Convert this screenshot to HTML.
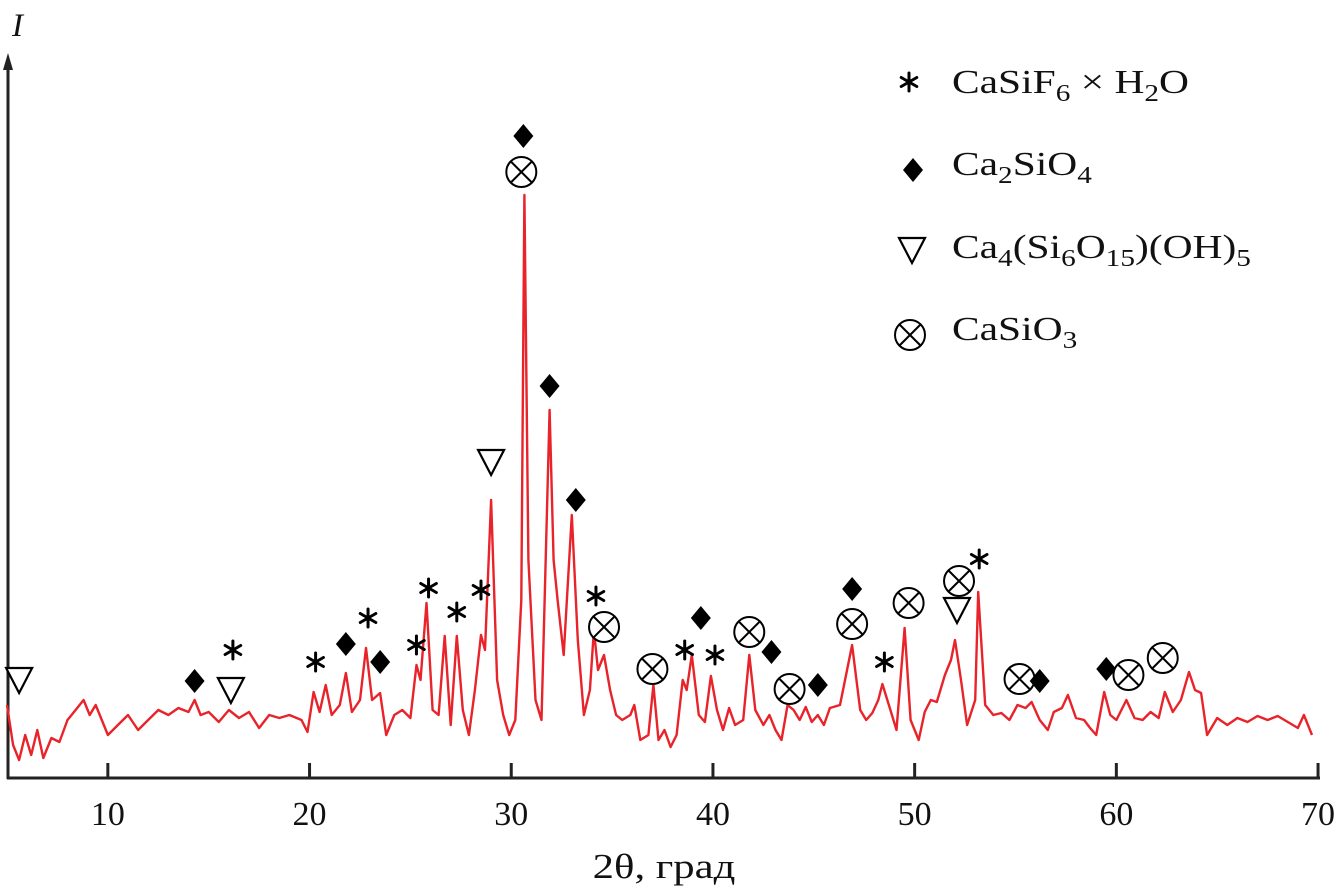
<!DOCTYPE html>
<html><head><meta charset="utf-8"><style>
html,body{margin:0;padding:0;background:#fff}
svg{display:block}
text{font-family:"Liberation Serif",serif;fill:#111}
</style></head><body>
<svg id="chart" width="1343" height="891" viewBox="0 0 1343 891" xmlns="http://www.w3.org/2000/svg">
<g id="axes"></g>
<g id="series"></g>
<g id="markers"></g>
<g id="legend"></g>
</svg>
<script>
const twoTheta=[5.0,5.3,5.6,5.9,6.2,6.5,6.8,7.2,7.6,8.0,8.4,8.8,9.1,9.4,9.7,10.0,10.5,11.0,11.5,12.0,12.5,13.0,13.5,14.0,14.3,14.6,15.0,15.5,16.0,16.5,17.0,17.5,18.0,18.5,19.0,19.6,19.9,20.2,20.5,20.8,21.1,21.5,21.8,22.1,22.5,22.8,23.1,23.5,23.8,24.2,24.6,25.0,25.3,25.5,25.8,26.1,26.4,26.7,27.0,27.3,27.6,27.9,28.2,28.5,28.7,29.0,29.3,29.6,29.9,30.2,30.5,30.65,30.85,31.2,31.5,31.9,32.1,32.3,32.6,33.0,33.3,33.6,33.9,34.1,34.3,34.6,34.9,35.2,35.5,35.9,36.1,36.4,36.8,37.05,37.3,37.6,37.9,38.2,38.5,38.7,38.95,39.3,39.6,39.9,40.2,40.5,40.8,41.1,41.5,41.8,42.1,42.5,42.8,43.1,43.4,43.7,44.0,44.3,44.6,44.9,45.2,45.5,45.8,46.3,46.9,47.3,47.6,47.9,48.2,48.4,48.8,49.1,49.5,49.8,50.2,50.5,50.8,51.1,51.5,51.8,52.0,52.3,52.6,53.0,53.15,53.5,53.9,54.3,54.7,55.1,55.5,55.8,56.2,56.6,56.9,57.3,57.6,58.0,58.4,58.7,59.0,59.4,59.7,60.0,60.5,60.9,61.3,61.7,62.1,62.4,62.8,63.2,63.6,63.9,64.2,64.5,65.0,65.5,66.0,66.5,67.0,67.5,68.0,68.5,69.0,69.3,69.7];
const intensity=[73,33,18,43,23,48,20,40,36,58,68,78,63,73,58,43,53,63,48,58,68,63,70,66,78,63,66,56,68,60,66,50,63,60,63,58,46,86,66,93,63,73,105,66,78,130,78,85,43,63,68,60,113,98,175,68,63,142,53,142,68,43,88,143,128,278,98,63,43,58,178,583,218,78,58,368,218,178,123,263,138,63,88,148,108,123,88,63,58,63,73,38,43,93,38,48,31,43,98,88,123,63,56,102,68,48,70,53,58,123,68,53,63,48,38,73,68,58,71,56,63,53,70,73,133,68,58,65,78,94,68,48,150,58,38,66,78,76,103,118,138,98,53,78,186,73,63,65,58,73,70,76,58,48,66,70,83,60,58,50,43,86,63,58,78,60,58,66,60,86,66,78,106,88,85,43,60,53,60,56,62,58,62,56,50,63,43];
const xTicks=[10,20,30,40,50,60,70];
const markerType=['tri','dia','tri','ast','ast','dia','ast','dia','ast','ast','ast','ast','tri','ox','dia','dia','dia','ast','ox','ox','ast','dia','ast','ox','dia','ox','dia','dia','ox','ast','ox','tri','ox','ast','ox','dia','dia','ox','ox'];
const markerPos=[5.6,14.3,16.1,16.2,20.3,21.8,22.9,23.5,25.3,25.9,27.3,28.5,29.0,30.5,30.6,31.9,33.2,34.2,34.6,37.0,38.6,39.4,40.1,41.8,42.9,43.8,45.2,46.9,46.9,48.5,49.7,52.1,52.2,53.2,55.2,56.2,59.5,60.6,62.3];
const markerLevel=[98,97,88,128,116,134,160,116,133,190,166,188,316,606,642,392,278,182,151,109,128,160,123,146,126,89,93,189,154,116,175,168,197,219,99,97,109,103,120];

const NS='http://www.w3.org/2000/svg';
const X0=7, Y0=778, PX=20.17, SX=1.22;
function xs(v){return X0+(v-5)*PX;}
function ys(v){return Y0-v;}
function mk(tag,attrs,parent){const e=document.createElementNS(NS,tag);for(const k in attrs)e.setAttribute(k,attrs[k]);parent.appendChild(e);return e;}
function stretch(el,cx,s){el.setAttribute('transform',`translate(${cx},0) scale(${s||SX},1) translate(${-cx},0)`);}

const axes=document.getElementById('axes');
let e=mk('line',{x1:X0,y1:Y0,x2:1320,y2:Y0,stroke:'#222','stroke-width':3},axes);


e=mk('line',{x1:8,y1:Y0+1,x2:8,y2:62,stroke:'#222','stroke-width':3},axes);


e=mk('polygon',{points:'8,53 3,70 13,70',fill:'#222'},axes);


xTicks.forEach(t=>{
  const l=mk('line',{x1:xs(t),y1:Y0,x2:xs(t),y2:763,stroke:'#222','stroke-width':3},axes);
  
  
  const tx=mk('text',{x:xs(t),y:825,'text-anchor':'middle','font-size':34},axes);
  tx.textContent=t;
  
  
});
e=mk('text',{x:664,y:878,'text-anchor':'middle','font-size':35},axes);
e.textContent='2θ, град';
stretch(e,664);


e=mk('text',{x:12,y:36,'font-size':33,'font-style':'italic'},axes);
e.textContent='I';



const series=document.getElementById('series');
let d='';
twoTheta.forEach((t,i)=>{d+=(i?'L':'M')+xs(t).toFixed(1)+','+ys(intensity[i]).toFixed(1);});
e=mk('path',{d:d,fill:'none',stroke:'#e8232a','stroke-width':2.4,'stroke-linejoin':'round'},series);



function drawMarker(type,cx,cy,parent){
  const g=mk('g',{},parent);
  if(type==='dia'){mk('polygon',{points:`${cx},${cy-12} ${cx+10},${cy} ${cx},${cy+12} ${cx-10},${cy}`,fill:'#000'},g);}
  else if(type==='tri'){mk('polygon',{points:`${cx-13},${cy-12} ${cx+13},${cy-12} ${cx},${cy+13}`,fill:'#fff',stroke:'#000','stroke-width':2.2},g);}
  else if(type==='ox'){mk('circle',{cx:cx,cy:cy,r:15,fill:'#fff',stroke:'#000','stroke-width':2},g);
    mk('line',{x1:cx-10,y1:cy-10,x2:cx+10,y2:cy+10,stroke:'#000','stroke-width':2},g);
    mk('line',{x1:cx+10,y1:cy-10,x2:cx-10,y2:cy+10,stroke:'#000','stroke-width':2},g);}
  else {for(let a=0;a<3;a++){const an=Math.PI/2+a*Math.PI/3;const dx=9*Math.cos(an),dy=9*Math.sin(an);
    mk('line',{x1:cx-dx,y1:cy-dy,x2:cx+dx,y2:cy+dy,stroke:'#000','stroke-width':3,'stroke-linecap':'round'},g);}}
  return g;
}
const markers=document.getElementById('markers');
markerType.forEach((t,i)=>{
  const g=drawMarker(t,xs(markerPos[i]),ys(markerLevel[i]),markers);
  
  
});

const legend=document.getElementById('legend');
const S=(s)=>`<tspan font-size="24" dy="8">${s}</tspan>`;
const R=(s)=>`<tspan dy="-8">${s}</tspan>`;
const legItems=[['ast',909,82,93,'CaSiF'+S('6')+R(' × H')+S('2')+R('O')],
['dia',913,170,175,'Ca'+S('2')+R('SiO')+S('4')],
['tri',912,250,258,'Ca'+S('4')+R('(Si')+S('6')+R('O')+S('15')+R(')(OH)')+S('5')],
['ox',910,335,340,'CaSiO'+S('3')]];
legItems.forEach(it=>{
  const g=mk('g',{},legend);
  
  
  drawMarker(it[0],it[1],it[2],g);
  const t=mk('text',{x:952,y:it[3],'font-size':34},g);
  t.innerHTML=it[4];
  stretch(t,952);
});
</script>
</body></html>
